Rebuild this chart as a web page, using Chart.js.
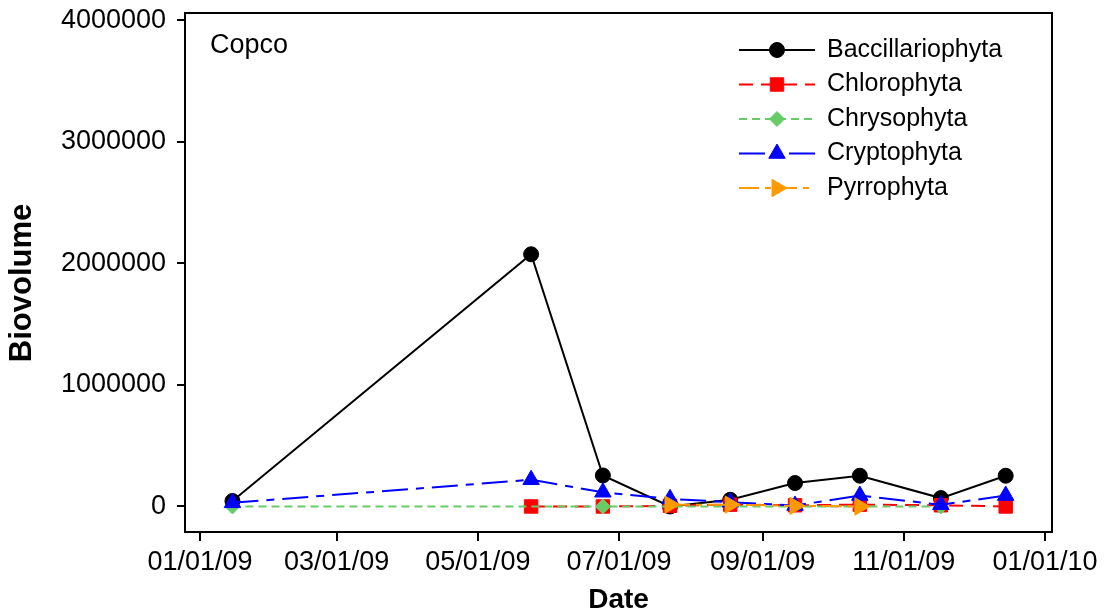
<!DOCTYPE html>
<html>
<head>
<meta charset="utf-8">
<title>Copco - Biovolume</title>
<script src="https://cdn.jsdelivr.net/npm/chart.js@4.4.1/dist/chart.umd.min.js"></script>
<style>
    html, body { margin: 0; padding: 0; background: #fff; }
    #wrap { width: 1106px; height: 616px; }
</style>
</head>
<body>
<div id="wrap"><canvas id="biovolume-chart" width="1106" height="616"></canvas></div>
<script>
// sampling dates and biovolume per division
const sampleDates = ['2009-01-15', '2009-05-24', '2009-06-24', '2009-07-23', '2009-08-18',
    '2009-09-15', '2009-10-13', '2009-11-17', '2009-12-15'];
const bacillariophyta = [45000, 2075000, 255000, 0, 55000, 193000, 253000, 69000, 253000];
const chlorophyta = [null, 0, 0, 5000, 15000, 10000, 15000, 10000, 0];
const chrysophyta = [0, null, 0, null, null, null, null, 0, null];
const cryptophyta = [30000, 220000, 117000, 63000, 35000, 8000, 90000, 14000, 90000];
const pyrrophyta = [null, null, null, 15000, 15000, 5000, 0, null, null];

const xTickDates = ['2009-01-01', '2009-03-01', '2009-05-01', '2009-07-01', '2009-09-01', '2009-11-01', '2010-01-01'];
const xTickLabels = ['01/01/09', '03/01/09', '05/01/09', '07/01/09', '09/01/09', '11/01/09', '01/01/10'];
const yTicks = [0, 1000000, 2000000, 3000000, 4000000];

const FONT = '"Liberation Sans", Arial, Helvetica, sans-serif';

function dayOf(date) {
    return (Date.parse(date) - Date.parse('2009-01-01')) / 86400000;
}

function toPoints(values) {
    return sampleDates.map((d, i) => ({x: dayOf(d), y: values[i]}));
}

const seriesStyles = [
    {label: 'Baccillariophyta', values: bacillariophyta, color: '#000000', dash: [], pointStyle: 'circle', radius: 7.5, rotation: 0},
    {label: 'Chlorophyta', values: chlorophyta, color: '#ff0000', dash: [14, 8], pointStyle: 'rect', radius: 9.5, rotation: 0},
    {label: 'Chrysophyta', values: chrysophyta, color: '#66cc66', dash: [8, 5], pointStyle: 'rectRot', radius: 7.5, rotation: 0},
    {label: 'Cryptophyta', values: cryptophyta, color: '#0000ff', dash: [26, 8, 8, 8], pointStyle: 'triangle', radius: 9.5, rotation: 0},
    {label: 'Pyrrophyta', values: pyrrophyta, color: '#ff9900', dash: [20, 6, 6, 6], pointStyle: 'triangle', radius: 10, rotation: 90}
];

const datasets = seriesStyles.map((s, i) => ({
    label: s.label,
    data: toPoints(s.values),
    borderColor: s.color,
    backgroundColor: s.color,
    borderWidth: 2,
    borderDash: s.dash,
    pointStyle: s.pointStyle,
    pointRadius: s.radius,
    pointRotation: s.rotation,
    pointBackgroundColor: s.color,
    pointBorderColor: s.color,
    pointBorderWidth: 1,
    spanGaps: true,
    tension: 0,
    order: seriesStyles.length - 1 - i
}));

// frame, site label, y title and the line+marker legend
const decorations = {
    id: 'decorations',
    afterDraw(chart) {
        const ctx = chart.ctx;
        const area = chart.chartArea;
        ctx.save();
        ctx.strokeStyle = '#000';
        ctx.lineWidth = 2;
        ctx.setLineDash([]);
        ctx.strokeRect(area.left, area.top, area.right - area.left, area.bottom - area.top);

        ctx.fillStyle = '#000';
        ctx.font = '27px ' + FONT;
        ctx.textAlign = 'left';
        ctx.textBaseline = 'alphabetic';
        ctx.fillText('Copco', area.left + 25, area.top + 40);

        ctx.save();
        ctx.translate(22, 283);
        ctx.rotate(-Math.PI / 2);
        ctx.font = 'bold 31px ' + FONT;
        ctx.textAlign = 'center';
        ctx.textBaseline = 'middle';
        ctx.fillText('Biovolume', 0, 0);
        ctx.restore();

        ctx.font = '25px ' + FONT;
        ctx.textBaseline = 'middle';
        for (let i = 0; i < seriesStyles.length; i++) {
            const s = seriesStyles[i];
            const y = 50 + i * 34.5;
            ctx.strokeStyle = s.color;
            ctx.fillStyle = s.color;
            ctx.lineWidth = 2;
            ctx.setLineDash(s.dash);
            ctx.beginPath();
            ctx.moveTo(739, y);
            ctx.lineTo(815, y);
            ctx.stroke();
            ctx.setLineDash([]);
            ctx.lineWidth = 1;
            Chart.helpers.drawPoint(ctx, {pointStyle: s.pointStyle, rotation: s.rotation, radius: s.radius, borderWidth: 1}, 777, y);
            ctx.fillStyle = '#000';
            ctx.fillText(s.label, 827, y);
        }
        ctx.restore();
    }
};

Chart.defaults.font.family = FONT;
Chart.defaults.color = '#000';

new Chart(document.getElementById('biovolume-chart'), {
    type: 'line',
    data: {datasets: datasets},
    options: {
        responsive: false,
        animation: false,
        layout: {padding: {top: 13, right: 54, left: 0, bottom: 0}},
        plugins: {
            legend: {display: false},
            tooltip: {enabled: false}
        },
        scales: {
            x: {
                type: 'linear',
                min: -6.5,
                max: 368,
                afterBuildTicks: (axis) => {
                    axis.ticks = xTickDates.map(d => ({value: dayOf(d)}));
                },
                afterFit: (axis) => {
                    axis.height = 84;
                    axis.paddingLeft = 0;
                    axis.paddingRight = 0;
                },
                ticks: {
                    callback: (value, index) => xTickLabels[index],
                    font: {size: 27},
                    color: '#000',
                    padding: 5,
                    maxRotation: 0,
                    autoSkip: false
                },
                grid: {drawOnChartArea: false, color: '#000', lineWidth: 2, tickLength: 9},
                border: {color: '#000', width: 2},
                title: {
                    display: true,
                    text: 'Date',
                    color: '#000',
                    font: {size: 28, weight: 'bold', lineHeight: 1},
                    padding: {top: 0, bottom: 2}
                }
            },
            y: {
                type: 'linear',
                min: -210000,
                max: 4060000,
                afterBuildTicks: (axis) => {
                    axis.ticks = yTicks.map(v => ({value: v}));
                },
                afterFit: (axis) => {
                    axis.width = 185;
                    axis.paddingTop = 0;
                    axis.paddingBottom = 0;
                },
                ticks: {
                    callback: (value) => String(value),
                    font: {size: 27},
                    color: '#000',
                    padding: 11
                },
                grid: {drawOnChartArea: false, color: '#000', lineWidth: 2, tickLength: 8},
                border: {color: '#000', width: 2}
            }
        }
    },
    plugins: [decorations]
});
</script>
</body>
</html>
